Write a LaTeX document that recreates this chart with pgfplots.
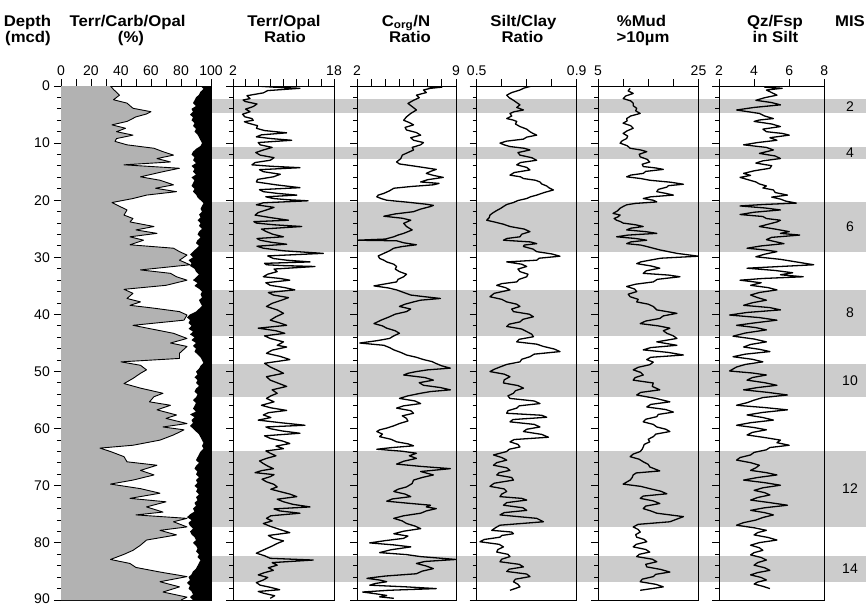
\documentclass[border=0pt]{standalone}
\usepackage{pgfplots}
\pgfplotsset{compat=1.18}
\usepackage{fontspec}
\setmainfont{Liberation Sans}
\newfontfamily\hf{Liberation Sans}[FakeStretch=1.08]
\definecolor{band}{gray}{0.8}
\definecolor{terr}{gray}{0.7}
\newcommand\hdr{\hf\bfseries\fontsize{15.5}{15.5}\selectfont}
\pgfplotsset{
  core/.style={scale only axis, y dir=reverse, ymin=0, ymax=90, height=514pt, anchor=north west,
    axis line style={line width=0.9pt}, tick align=outside, major tick length=7pt, minor tick length=4pt,
    every tick/.style={black, line width=1pt},
    ytick={0,10,...,90}, minor y tick num=4, yticklabels={}, ytick pos=left,
    xtick pos=right, xticklabel pos=right,
    tick label style={font=\fontsize{14}{14}\selectfont},
    /pgf/number format/assume math mode=true},
  curve/.style={black, line width=1.3pt, mark=none, line join=round}
}
\begin{document}
\begin{tikzpicture}
\useasboundingbox (0,0) rectangle (866pt,-606pt);
% headers
\node[anchor=base, font=\hdr] at (27.5pt,-26.5pt) {Depth};
\node[anchor=base, font=\hdr] at (28pt,-42.5pt) {(mcd)};
\node[anchor=base, font=\hdr] at (127.5pt,-26.5pt) {Terr/Carb/Opal};
\node[anchor=base, font=\hdr] at (131pt,-42.5pt) {(\%)};
\node[anchor=base, font=\hdr] at (284pt,-26.5pt) {Terr/Opal};
\node[anchor=base, font=\hdr] at (285pt,-42.5pt) {Ratio};
\node[anchor=base, font=\hdr] at (406pt,-26.5pt) {C\textsubscript{org}/N};
\node[anchor=base, font=\hdr] at (410pt,-42.5pt) {Ratio};
\node[anchor=base, font=\hdr] at (523.5pt,-26.5pt) {Silt/Clay};
\node[anchor=base, font=\hdr] at (522.5pt,-42.5pt) {Ratio};
\node[anchor=base, font=\hdr] at (641.5pt,-26.5pt) {\%Mud};
\node[anchor=base, font=\hdr] at (643pt,-42.5pt) {>10µm};
\node[anchor=base, font=\hdr] at (775pt,-26.5pt) {Qz/Fsp};
\node[anchor=base, font=\hdr] at (775.5pt,-42.5pt) {in Silt};
\node[anchor=base, font=\hdr] at (850pt,-26.5pt) {MIS};

% bands
\begin{axis}[scale only axis, y dir=reverse, ymin=0, ymax=90, height=514pt, width=655pt,
  at={(211pt,-86pt)}, anchor=north west, xmin=211, xmax=866, axis lines=none, clip=false]
\addplot[fill=band, draw=none] coordinates {(211,2.3) (866,2.3) (866,4.8) (211,4.8)} -- cycle;
\addplot[fill=band, draw=none] coordinates {(211,10.7) (866,10.7) (866,12.8) (211,12.8)} -- cycle;
\addplot[fill=band, draw=none] coordinates {(211,20.3) (866,20.3) (866,29.1) (211,29.1)} -- cycle;
\addplot[fill=band, draw=none] coordinates {(211,35.7) (866,35.7) (866,43.8) (211,43.8)} -- cycle;
\addplot[fill=band, draw=none] coordinates {(211,48.7) (866,48.7) (866,54.4) (211,54.4)} -- cycle;
\addplot[fill=band, draw=none] coordinates {(211,63.9) (866,63.9) (866,77.2) (211,77.2)} -- cycle;
\addplot[fill=band, draw=none] coordinates {(211,82.3) (866,82.3) (866,86.9) (211,86.9)} -- cycle;
\node[font=\fontsize{14}{14}\selectfont] at (axis cs:850,3.55) {2};
\node[font=\fontsize{14}{14}\selectfont] at (axis cs:850,11.75) {4};
\node[font=\fontsize{14}{14}\selectfont] at (axis cs:850,24.7) {6};
\node[font=\fontsize{14}{14}\selectfont] at (axis cs:850,39.75) {8};
\node[font=\fontsize{14}{14}\selectfont] at (axis cs:850,51.55) {10};
\node[font=\fontsize{14}{14}\selectfont] at (axis cs:850,70.55) {12};
\node[font=\fontsize{14}{14}\selectfont] at (axis cs:850,84.6) {14};
\end{axis}

% Panel 1
\begin{axis}[core, at={(61pt,-86pt)}, width=150pt, xmin=0, xmax=100,
  xtick={0,10,...,100}, xticklabels={0,,20,,40,,60,,80,,100},
  yticklabels={0,10,20,30,40,50,60,70,80,\raisebox{2.5pt}{90}}, yticklabel style={xshift=-3pt, inner sep=1pt}]
\addplot[fill=terr, draw=none] coordinates {(0,0) (33,0) (35,0.6) (39,1.6) (35,2.4) (44,3.0) (48,3.9) (60,4.5) (57,4.9) (50,5.4) (44,6.2) (34,6.8) (43,7.4) (37,8) (48,8.6) (37,9.2) (36,9.7) (44,10.3) (62,10.9) (68,11.5) (75,12.1) (64,12.7) (73,13.3) (42,13.8) (79,14.4) (68,15) (53,15.9) (66,16.5) (75,17.3) (63,17.9) (77,18.5) (57,19.1) (48,19.7) (34,20.4) (37,20.8) (44,21.7) (42,22.6) (48,23.2) (46,23.8) (62,24.6) (50,25.2) (64,25.8) (46,26.4) (55,27) (46,27.8) (75,28.4) (79,29) (84,29.6) (79,30.5) (86,31.3) (53,32.2) (73,32.8) (77,33.4) (84,34) (70,34.9) (42,35.6) (48,36.3) (44,37.2) (53,37.8) (46,38.4) (62,38.9) (79,39.5) (84,40.1) (82,41) (48,41.9) (75,43.3) (84,44.2) (73,45) (84,45.6) (79,46.8) (79,47.7) (40,48.3) (53,48.9) (57,49.7) (53,50.3) (48,51.2) (42,52.1) (53,52.9) (68,53.8) (62,54.4) (59,55.3) (73,55.9) (64,56.7) (77,57.6) (70,58.2) (84,59.1) (68,59.7) (82,60.2) (75,61.1) (66,62) (48,62.9) (26,63.4) (33,64) (42,64.9) (44,65.8) (64,66.4) (53,67.3) (62,68.1) (48,69) (33,69.7) (53,70.5) (66,71.3) (46,72.2) (70,72.8) (57,73.7) (68,74.6) (50,75.1) (84,75.7) (75,76.3) (84,77.2) (66,77.8) (77,78.6) (57,79.5) (53,80.4) (48,81.3) (42,82) (33,82.9) (46,83.6) (50,84.3) (66,85.1) (84,85.9) (66,86.8) (79,87.7) (68,88.6) (84,89.5) (80,90) (0,90)} -- cycle;
\addplot[curve, line width=0.9pt] coordinates {(33,0) (35,0.6) (39,1.6) (35,2.4) (44,3.0) (48,3.9) (60,4.5) (57,4.9) (50,5.4) (44,6.2) (34,6.8) (43,7.4) (37,8) (48,8.6) (37,9.2) (36,9.7) (44,10.3) (62,10.9) (68,11.5) (75,12.1) (64,12.7) (73,13.3) (42,13.8) (79,14.4) (68,15) (53,15.9) (66,16.5) (75,17.3) (63,17.9) (77,18.5) (57,19.1) (48,19.7) (34,20.4) (37,20.8) (44,21.7) (42,22.6) (48,23.2) (46,23.8) (62,24.6) (50,25.2) (64,25.8) (46,26.4) (55,27) (46,27.8) (75,28.4) (79,29) (84,29.6) (79,30.5) (86,31.3) (53,32.2) (73,32.8) (77,33.4) (84,34) (70,34.9) (42,35.6) (48,36.3) (44,37.2) (53,37.8) (46,38.4) (62,38.9) (79,39.5) (84,40.1) (82,41) (48,41.9) (75,43.3) (84,44.2) (73,45) (84,45.6) (79,46.8) (79,47.7) (40,48.3) (53,48.9) (57,49.7) (53,50.3) (48,51.2) (42,52.1) (53,52.9) (68,53.8) (62,54.4) (59,55.3) (73,55.9) (64,56.7) (77,57.6) (70,58.2) (84,59.1) (68,59.7) (82,60.2) (75,61.1) (66,62) (48,62.9) (26,63.4) (33,64) (42,64.9) (44,65.8) (64,66.4) (53,67.3) (62,68.1) (48,69) (33,69.7) (53,70.5) (66,71.3) (46,72.2) (70,72.8) (57,73.7) (68,74.6) (50,75.1) (84,75.7) (75,76.3) (84,77.2) (66,77.8) (77,78.6) (57,79.5) (53,80.4) (48,81.3) (42,82) (33,82.9) (46,83.6) (50,84.3) (66,85.1) (84,85.9) (66,86.8) (79,87.7) (68,88.6) (84,89.5) (80,90)};
\addplot[fill=black, draw=none] coordinates {(100,0) (93,0) (95,0.5) (93,1) (92,1.5) (90,2) (89,2.5) (88,3) (90,3.5) (87,4) (88,4.5) (86,5) (88,5.5) (87,6) (89,6.5) (88,7) (90,7.5) (89,8) (91,8.5) (92,9) (93,9.5) (94,10) (93,10.5) (90,11) (88,11.5) (87,12) (89,12.5) (88,13) (90,13.5) (87,14) (89,14.5) (88,15) (90,15.5) (87,16) (89,16.5) (88,17) (87,17.5) (89,18) (88,18.5) (90,19) (91,19.5) (93,20) (95,20.5) (94,21) (93,21.5) (94,22) (92,22.5) (93,23) (91,23.5) (93,24) (92,24.5) (94,25) (92,25.5) (91,26) (93,26.5) (91,27) (90,27.5) (92,28) (90,28.5) (88,29) (86,29.5) (88,30) (85,30.5) (87,31) (86,31.5) (89,32) (90,32.5) (92,33) (90,33.5) (88,34) (91,34.5) (89,35) (92,35.5) (94,36) (93,36.5) (94,37) (92,37.5) (93,38) (94,38.5) (92,39) (90,39.5) (86,40) (84,40.5) (86,41) (85,41.5) (87,42) (85,42.5) (88,43) (86,43.5) (89,44) (87,44.5) (90,45) (88,45.5) (90,46) (89,46.5) (91,47) (93,47.5) (94,48) (95,48.5) (93,49) (92,49.5) (90,50) (91,50.5) (89,51) (91,51.5) (90,52) (92,52.5) (90,53) (89,53.5) (91,54) (90,54.5) (88,55) (90,55.5) (89,56) (88,56.5) (90,57) (86,57.5) (89,58) (87,58.5) (88,59) (86,59.5) (88,60) (90,60.5) (92,61) (93,61.5) (94,62) (95,62.5) (94,63) (95,63.5) (93,64) (92,64.5) (91,65) (90,65.5) (92,66) (90,66.5) (89,67) (91,67.5) (90,68) (92,68.5) (90,69) (91,69.5) (89,70) (91,70.5) (90,71) (92,71.5) (90,72) (91,72.5) (89,73) (90,73.5) (88,74) (89,74.5) (86,75) (84,75.5) (87,76) (85,76.5) (86,77) (88,77.5) (86,78) (87,78.5) (89,79) (90,79.5) (88,80) (90,80.5) (91,81) (90,81.5) (92,82) (91,82.5) (93,83) (92,83.5) (91,84) (90,84.5) (88,85) (87,85.5) (85,86) (86,86.5) (84,87) (86,87.5) (85,88) (87,88.5) (88,89) (86,89.5) (88,90) (100,90)} -- cycle;
\end{axis}

% Panel 2
\begin{axis}[core, at={(233pt,-86pt)}, width=101pt, xmin=2, xmax=18,
  xtick={2,4,...,18}, xticklabels={2,,,,,,,,18}]
\addplot[curve] coordinates {(5.7,0) (8.5,0.2) (12.6,0.4) (7.5,0.8) (6.8,1.2) (4.2,1.7) (4.7,2.2) (3.6,2.45) (3.9,2.7) (5.8,3.15) (5.2,3.6) (4.0,4.05) (4.7,4.5) (3.5,4.95) (3.9,5.4) (5.0,5.7) (5.2,6) (3.8,6.25) (4.4,6.5) (5.9,6.95) (5.7,7.4) (7.0,7.8) (10.5,8.2) (6.5,8.55) (5.7,8.9) (8.0,9.2) (11.3,9.5) (6.0,9.9) (6.3,10.3) (8.2,10.75) (6.8,11.2) (5.6,11.65) (6.3,12.1) (8.5,12.55) (7.9,13) (5.5,13.4) (5,13.8) (8.0,14.05) (12.6,14.3) (6.2,14.65) (6.8,15) (9.5,15.45) (8.4,15.9) (5.9,16.35) (5.7,16.8) (8.8,17.3) (12.6,17.8) (6.2,18.15) (6.8,18.5) (9.0,18.8) (12.1,19.1) (7.2,19.4) (8.4,19.7) (10.5,19.9) (13.9,20.1) (6.8,20.45) (5.7,20.8) (8.5,21.25) (7.3,21.7) (6.0,22.15) (5.5,22.6) (8.0,23.05) (10.8,23.5) (5.3,23.75) (5.7,24) (8.5,24.3) (12.9,24.6) (6.5,25.05) (7.3,25.5) (8.3,25.95) (10,26.4) (5.8,26.7) (6.3,27) (8.0,27.35) (10.5,27.7) (5.8,28.05) (6.8,28.4) (10.0,28.85) (16.3,29.3) (7.5,29.75) (8.4,30.2) (10.5,30.5) (14.2,30.8) (7.0,31.05) (7.3,31.3) (10.0,31.45) (15,31.6) (8.5,32.05) (9,32.5) (7.5,32.95) (6.8,33.4) (9.5,33.7) (11,34) (7.2,34.45) (7.9,34.9) (10.2,35.3) (11.8,35.7) (7.6,36.15) (8.4,36.6) (10.8,37.05) (9.7,37.5) (8.2,38.05) (7.3,38.6) (9.0,39.2) (10,39.8) (8.8,40.4) (7.9,41) (9.3,41.45) (10.5,41.9) (6,42.4) (8.8,42.85) (10.2,43.3) (7.0,43.75) (7.9,44.2) (10.0,44.8) (9,45.4) (10.5,45.7) (8.2,46.25) (7.3,46.8) (9.5,47.35) (11,47.9) (7.0,48.55) (7.9,49.2) (9.0,49.75) (10,50.3) (7.3,50.9) (7.9,51.5) (9.2,52.05) (10.5,52.6) (8.2,53.2) (9,53.8) (8.0,54.25) (7.3,54.7) (8.5,55.3) (6.5,55.9) (8.0,56.35) (10.5,56.8) (7.6,57.2) (6.8,57.6) (8.0,58.05) (6,58.5) (9.5,58.95) (13.4,59.4) (7.2,59.7) (7.9,60) (9.8,60.4) (12.6,60.8) (7.0,61.25) (7.9,61.7) (9.8,62.15) (11,62.6) (8.8,63.05) (10,63.5) (7.2,63.9) (7.9,64.3) (8.8,64.75) (7.3,65.2) (6.2,65.65) (6.8,66.1) (7.5,66.55) (8.4,67) (6.5,67.35) (5.5,67.7) (8.5,68.05) (7.9,68.4) (6.6,68.85) (7.3,69.3) (8.5,69.75) (9,70.2) (8.0,70.6) (9.4,71) (11.0,71.45) (12.1,71.9) (9.0,72.35) (10,72.8) (11.5,73.25) (14.2,73.7) (8.5,74.05) (9.4,74.4) (12.6,74.8) (8.0,75.25) (7.3,75.7) (8.2,76.15) (6.8,76.6) (7.8,77.05) (9,77.5) (10,77.85) (11,78.2) (7.6,78.7) (8.4,79.2) (10.0,79.65) (9,80.1) (8.2,80.55) (7.3,81) (6.5,81.4) (5.7,81.8) (7.0,82.25) (7.9,82.7) (14.7,83) (8.2,83.45) (9,83.9) (7.6,84.35) (8.4,84.8) (7.0,85.2) (6,85.6) (7.5,86.05) (6.8,86.5) (5.7,86.95) (6.3,87.4) (8.0,87.8) (9.4,88.2) (6.0,88.5) (6.8,88.8) (8.6,89.25) (7.9,89.7)};
\end{axis}

% Panel 3
\begin{axis}[core, at={(357pt,-86pt)}, width=99pt, xmin=2, xmax=9,
  xtick={2,3,...,9}, xticklabels={2,,,,,,,9}]
\addplot[curve] coordinates {(7.6,0) (7.0,0.1) (8.0,0.2) (7.2,0.4) (6.7,0.7) (6.9,1.15) (6.2,1.6) (6.4,2.05) (6.0,2.5) (5.6,3.05) (5.9,3.6) (6.2,4.2) (5.8,4.8) (5.5,5.4) (5.3,6) (5.7,6.4) (6.0,6.8) (5.4,7.25) (5.5,7.7) (6.2,8.15) (6.5,8.6) (5.8,9.05) (6.0,9.5) (6.7,9.9) (6.5,10.3) (5.9,10.75) (6.0,11.2) (5.6,11.65) (5.2,12.1) (5.1,12.7) (4.8,13.3) (5.0,13.65) (6.0,14) (6.8,14.3) (7.6,14.6) (7.2,14.95) (6.9,15.3) (7.4,15.65) (8.1,16) (7.0,16.4) (6.5,16.8) (7.8,17.05) (7.4,17.3) (5.8,17.6) (4.6,17.9) (4.3,18.35) (3.9,18.8) (3.5,19.1) (3.4,19.4) (3.7,19.7) (4.1,20) (5.6,20.35) (6.9,20.7) (7.4,20.9) (7.2,21.1) (6.5,21.55) (6.0,22) (4.7,22.4) (3.9,22.8) (5.2,23.15) (5.8,23.5) (5.3,24.05) (5.5,24.6) (5.9,25.2) (5.3,25.8) (4.9,26.1) (4.6,26.4) (4.0,26.8) (2.0,27) (4.8,27.1) (5.3,27.45) (6.2,27.8) (5.2,28.1) (4.6,28.4) (4.3,28.85) (3.9,29.3) (3.5,29.75) (3.6,30.2) (3.9,30.5) (4.1,30.8) (4.6,31.2) (4.8,31.6) (4.7,32.05) (5.0,32.5) (5.5,32.95) (5.3,33.4) (4.9,33.85) (4.8,34.3) (4.0,34.65) (3.2,35) (4.2,35.35) (4.8,35.7) (5.3,36.15) (5.8,36.6) (6.8,36.9) (7.9,37.2) (6.5,37.5) (6.0,37.8) (5.4,38.2) (5.0,38.6) (5.8,39.05) (5.5,39.5) (4.7,39.95) (4.3,40.4) (3.7,41) (3.2,41.6) (3.8,42) (4.1,42.4) (4.7,42.85) (5.0,43.3) (4.6,43.75) (4.3,44.2) (3.4,44.6) (2.2,45) (3.9,45.4) (4.3,45.8) (4.6,46.2) (5.1,46.65) (5.5,47.1) (6.2,47.5) (6.7,47.9) (7.3,48.25) (7.6,48.6) (8.0,49.0) (8.6,49.4) (7.0,49.7) (6.2,50) (5.6,50.3) (5.3,50.6) (6.8,51.05) (7.4,51.5) (6.4,51.95) (6.7,52.4) (7.9,52.8) (8.6,53.2) (7.2,53.5) (6.5,53.8) (5.6,54.25) (5.0,54.7) (6.1,55.15) (6.5,55.6) (5.3,56) (4.8,56.4) (5.8,56.85) (6.0,57.3) (5.2,57.75) (5.5,58.2) (5.6,58.65) (5.0,59.1) (4.6,59.5) (4.1,59.9) (3.6,60.2) (3.4,60.5) (3.8,60.95) (3.6,61.4) (4.4,61.85) (4.8,62.3) (5.6,62.65) (6.0,63) (4.5,63.3) (3.4,63.6) (5.2,63.95) (6.2,64.3) (5.7,64.75) (6.2,65.2) (5.3,65.7) (4.8,66.2) (6.5,66.6) (8.6,67) (6.5,67.5) (7.4,68.1) (6.6,68.55) (6.0,69) (5.9,69.6) (5.5,70.2) (4.9,70.6) (4.6,71) (5.4,71.45) (5.8,71.9) (4.5,72.3) (4.1,72.7) (5.6,73.05) (7.2,73.4) (6.9,73.7) (7.6,74) (6.9,74.4) (6.5,74.8) (5.3,75.25) (4.6,75.7) (5.2,76.15) (5.5,76.6) (6.1,77.05) (6.5,77.5) (5.3,77.95) (4.6,78.4) (5.6,78.8) (5.3,79.2) (4.0,79.6) (2.9,80) (4.6,80.35) (5.8,80.7) (4.4,81.2) (3.6,81.7) (5.5,82.05) (6.5,82.4) (9.0,82.9) (6.8,83.25) (6.2,83.6) (6.9,84.05) (7.4,84.5) (6.6,84.95) (6.2,85.4) (4.0,85.8) (2.7,86.2) (3.6,86.5) (4.1,86.8) (3.3,87.1) (2.9,87.4) (5.5,87.7) (7.6,88) (4.2,88.3) (2.4,88.6) (3.3,88.9) (4.1,89.2) (3.6,89.45) (4.6,89.7)};
\end{axis}

% Panel 4
\begin{axis}[core, at={(476.7pt,-86pt)}, width=100pt, xmin=0.5, xmax=0.9,
  xtick={0.5,0.6,0.7,0.8,0.9}, xticklabels={0.5,,,,0.9}]
\addplot[curve] coordinates {(0.72,0) (0.69,0.35) (0.673,0.7) (0.64,1.15) (0.62,1.6) (0.63,2.05) (0.647,2.5) (0.66,2.9) (0.673,3.3) (0.66,3.75) (0.687,4.2) (0.65,4.5) (0.633,4.8) (0.64,5.25) (0.62,5.7) (0.645,5.95) (0.66,6.2) (0.655,6.65) (0.673,7.1) (0.70,7.55) (0.713,8) (0.725,8.3) (0.74,8.6) (0.70,8.95) (0.687,9.3) (0.62,9.65) (0.593,10) (0.61,10.3) (0.633,10.6) (0.69,10.9) (0.713,11.2) (0.665,11.65) (0.673,12.1) (0.72,12.55) (0.74,13) (0.675,13.4) (0.66,13.8) (0.70,14.25) (0.713,14.7) (0.65,15.15) (0.633,15.6) (0.675,15.9) (0.687,16.2) (0.735,16.5) (0.753,16.8) (0.76,17.15) (0.78,17.5) (0.79,17.85) (0.807,18.2) (0.77,18.65) (0.74,19.1) (0.715,19.4) (0.70,19.7) (0.665,20.05) (0.647,20.4) (0.62,20.75) (0.607,21.1) (0.595,21.45) (0.58,21.8) (0.565,22.2) (0.553,22.6) (0.55,23.05) (0.54,23.5) (0.575,23.85) (0.607,24.2) (0.633,24.6) (0.69,25.05) (0.713,25.5) (0.68,25.95) (0.673,26.4) (0.62,26.7) (0.607,27) (0.715,27.3) (0.74,27.6) (0.69,27.85) (0.687,28.1) (0.725,28.55) (0.74,29) (0.80,29.4) (0.833,29.8) (0.75,30.15) (0.74,30.5) (0.62,30.8) (0.68,31.2) (0.70,31.6) (0.665,32.05) (0.673,32.5) (0.705,32.95) (0.70,33.4) (0.67,33.85) (0.66,34.3) (0.60,34.6) (0.58,34.9) (0.615,35.3) (0.633,35.7) (0.57,36.3) (0.553,36.9) (0.60,37.35) (0.62,37.8) (0.66,38.2) (0.673,38.6) (0.64,39.05) (0.647,39.5) (0.71,39.95) (0.727,40.4) (0.685,40.85) (0.673,41.3) (0.63,41.7) (0.62,42.1) (0.68,42.55) (0.70,43) (0.72,43.45) (0.727,43.9) (0.67,44.35) (0.66,44.8) (0.74,45.2) (0.767,45.6) (0.81,46.05) (0.833,46.5) (0.73,46.95) (0.713,47.4) (0.68,47.85) (0.673,48.3) (0.62,48.75) (0.593,49.2) (0.57,49.6) (0.553,50) (0.61,50.45) (0.633,50.9) (0.61,51.45) (0.607,52) (0.665,52.45) (0.687,52.9) (0.655,53.35) (0.647,53.8) (0.625,54.25) (0.633,54.7) (0.73,55.15) (0.753,55.6) (0.67,56) (0.66,56.4) (0.625,56.85) (0.62,57.3) (0.76,57.65) (0.78,58) (0.645,58.4) (0.633,58.8) (0.73,59.25) (0.753,59.7) (0.70,60.1) (0.687,60.5) (0.76,61) (0.787,61.5) (0.65,61.9) (0.633,62.3) (0.665,62.75) (0.673,63.2) (0.63,63.6) (0.62,64) (0.567,64.6) (0.60,65.05) (0.62,65.5) (0.58,65.95) (0.567,66.4) (0.62,66.85) (0.633,67.3) (0.59,67.7) (0.58,68.1) (0.64,68.55) (0.647,69) (0.57,69.55) (0.553,70.1) (0.61,70.55) (0.62,71) (0.60,71.45) (0.593,71.9) (0.68,72.2) (0.70,72.5) (0.62,72.95) (0.607,73.4) (0.685,73.85) (0.70,74.3) (0.61,74.7) (0.593,75.1) (0.74,75.7) (0.767,76.3) (0.593,76.9) (0.575,77.35) (0.56,77.8) (0.64,78.1) (0.647,78.4) (0.60,78.7) (0.593,79) (0.53,79.4) (0.513,79.8) (0.59,80.25) (0.607,80.7) (0.585,81.15) (0.58,81.6) (0.625,82) (0.633,82.4) (0.60,82.85) (0.593,83.3) (0.67,83.75) (0.687,84.2) (0.63,84.6) (0.62,85) (0.70,85.45) (0.713,85.9) (0.655,86.35) (0.647,86.8) (0.665,87.25) (0.673,87.7) (0.633,88.3)};
\end{axis}

% Panel 5
\begin{axis}[core, at={(598pt,-86pt)}, width=100.5pt, xmin=5, xmax=25,
  xtick={5,10,15,20,25}, xticklabels={5,,,,25}]
\addplot[curve] coordinates {(11.4,0.4) (11.0,0.85) (12,1.3) (10.5,1.75) (10,2.2) (11.5,2.6) (12,3) (12.0,3.45) (12.7,3.9) (12.5,4.35) (13.4,4.8) (11.5,5.25) (10.7,5.7) (10.8,6.1) (10,6.5) (11.5,6.95) (12,7.4) (10.8,7.85) (10,8.3) (10.9,8.75) (10.7,9.2) (9.8,9.6) (9.4,10) (10.8,10.45) (11.4,10.9) (13.5,11.2) (14.7,11.5) (13.2,11.95) (13.4,12.4) (14.8,12.85) (15.3,13.3) (13.8,13.7) (14,14.1) (16.5,14.35) (18,14.6) (14.5,14.95) (14,15.3) (11.5,15.6) (10.7,15.9) (13.5,16.2) (15.3,16.5) (19.5,16.85) (22,17.2) (19.0,17.45) (18.7,17.7) (17.0,18.1) (16.7,18.5) (18.5,18.8) (20,19.1) (15.5,19.4) (14,19.7) (16.0,20) (16.7,20.3) (12.5,20.55) (10.7,20.8) (10.0,21.1) (9.4,21.4) (8.9,21.85) (8,22.3) (9.4,22.6) (9,22.9) (8.2,23.2) (8.7,23.5) (9.5,23.75) (10,24) (12.5,24.3) (14,24.6) (11.5,24.9) (10.7,25.2) (14.5,25.5) (16.7,25.8) (11.0,26.1) (8.7,26.4) (12.5,26.7) (14.7,27) (11.5,27.3) (10.7,27.6) (13.5,27.85) (14.7,28.1) (16.0,28.4) (17.3,28.7) (19.0,29) (20.7,29.3) (25,29.8) (17.5,30.15) (15.3,30.5) (13.5,30.8) (12.7,31.1) (15.5,31.5) (17.3,31.9) (14.6,32.35) (14,32.8) (19.0,33.1) (21.3,33.4) (16.8,33.85) (16,34.3) (12.5,34.7) (10.7,35.1) (12.3,35.55) (12.7,36) (11.0,36.45) (11.4,36.9) (13.0,37.35) (12.7,37.8) (15.0,38.2) (16,38.6) (16.7,39.2) (20.7,39.8) (18.0,40.25) (17.3,40.7) (14.5,41.15) (13.4,41.6) (17.0,42) (19.3,42.4) (18.0,42.85) (18.7,43.3) (20.0,43.75) (20.7,44.2) (16.7,44.8) (20.7,45.4) (15.5,45.8) (14,46.2) (19.0,46.65) (22,47.1) (15.5,47.5) (14.7,47.9) (16.0,48.35) (15.3,48.8) (13.0,49.25) (12,49.7) (13.5,50.15) (14,50.6) (12.4,51.05) (12,51.5) (16,52) (15.8,52.6) (17.3,53.2) (13.5,53.65) (12.7,54.1) (16.5,54.7) (19.3,55.3) (15.5,55.75) (14.7,56.2) (18.5,56.65) (20,57.1) (17.0,57.5) (16.7,57.9) (14.5,58.35) (14,58.8) (16.0,59.25) (16.7,59.7) (18.5,60.1) (19.3,60.5) (16.5,60.95) (16,61.4) (15.0,61.85) (15.3,62.3) (14.2,62.75) (14,63.2) (13.8,63.6) (13.4,64) (12.0,64.45) (11.4,64.9) (13.2,65.35) (14,65.8) (15.0,66.25) (15.3,66.7) (17.3,67.4) (12.6,67.75) (12,68.1) (11.8,68.55) (11.4,69) (10,69.7) (13.5,70.1) (15.3,70.5) (17.5,70.95) (18.7,71.4) (14.0,71.8) (13.4,72.2) (16.0,72.65) (17.3,73.1) (14.5,73.55) (14,74) (15.5,74.4) (16.7,74.8) (22,75.4) (19.3,76.3) (13.0,76.75) (12,77.2) (13.0,77.65) (13.4,78.1) (12.5,78.55) (12.7,79) (14.2,79.4) (14.7,79.8) (12.6,80.25) (12,80.7) (14.5,81.15) (15.3,81.6) (13.2,82) (12.7,82.4) (15.8,82.85) (16.7,83.3) (14.5,83.75) (14.7,84.2) (17.5,84.65) (19.3,85.1) (16.5,85.5) (16,85.9) (13.8,86.35) (13.4,86.8) (16.5,87.25) (18,87.7) (13.4,88.3)};
\end{axis}

% Panel 6
\begin{axis}[core, at={(719pt,-86pt)}, width=105.3pt, xmin=2, xmax=8,
  xtick={2,4,6,8}, xticklabels={2,4,6,8}]
\addplot[curve] coordinates {(5.5,0) (4.6,0.2) (5.6,0.4) (4.7,0.7) (5.0,1.15) (5.3,1.6) (4.6,2.05) (4.1,2.5) (5.0,2.9) (5.5,3.3) (4.0,3.75) (3.0,4.2) (4.3,4.8) (4.6,5.25) (5.1,5.7) (4.3,5.95) (4.0,6.2) (5.0,6.65) (5.5,7.1) (4.5,7.55) (4.7,8) (5.6,8.3) (6.0,8.6) (4.9,9.05) (5.3,9.5) (4.2,9.9) (3.4,10.3) (4.7,10.75) (5.1,11.2) (4.3,11.8) (5.2,12.25) (5.5,12.7) (4.5,13.1) (4.1,13.5) (5.0,13.95) (4.9,14.4) (4.0,14.85) (3.4,15.3) (3.8,15.65) (3.2,16) (4.1,16.8) (4.3,17.15) (4.7,17.5) (4.5,17.85) (5.1,18.2) (5.2,18.65) (5.9,19.1) (5.0,19.45) (5.5,19.8) (5.8,20.15) (6.4,20.5) (4.5,20.75) (3.2,21) (4.6,21.35) (5.5,21.7) (4.0,22.1) (3.2,22.5) (4.5,22.85) (4.7,23.2) (5.5,23.5) (5.3,23.8) (4.8,24.2) (4.3,24.6) (5.2,25.05) (6.0,25.5) (5.5,25.8) (6.6,26.1) (5.0,26.5) (4.7,26.9) (5.2,27.25) (5.7,27.6) (4.4,28) (3.6,28.4) (4.6,28.7) (5.3,29) (4.6,29.45) (4.1,29.9) (5.5,30.35) (6.4,30.8) (7.4,31.3) (3.6,31.9) (5.2,32.3) (6.2,32.7) (5.5,33.05) (6.8,33.4) (4.5,33.7) (3.2,34) (4.4,34.45) (3.8,34.9) (4.8,35.3) (5.3,35.7) (4.3,36.15) (3.8,36.6) (4.2,37.05) (4.7,37.5) (3.9,37.95) (3.4,38.4) (4.9,38.8) (5.5,39.2) (3.6,39.65) (2.6,40.1) (4.3,40.55) (5.3,41) (4.1,41.45) (3.0,41.9) (4.1,42.3) (4.7,42.7) (3.5,43.25) (2.8,43.8) (4.0,44.3) (4.7,44.8) (3.8,45.25) (3.4,45.7) (4.3,46.1) (4.9,46.5) (3.5,46.95) (2.8,47.4) (3.9,47.85) (4.5,48.3) (3.5,48.75) (3.0,49.2) (2.6,49.9) (3.9,50.25) (4.7,50.6) (3.9,51.05) (3.6,51.5) (4.6,51.95) (5.3,52.4) (4.2,52.8) (3.4,53.2) (4.8,53.65) (5.9,54.1) (4.5,54.55) (4.0,55) (3.6,55.45) (3.0,55.9) (4.6,56.3) (5.9,56.7) (4.5,57.15) (3.6,57.6) (4.5,58.05) (5.1,58.5) (3.8,58.95) (3.0,59.4) (4.0,59.8) (4.7,60.2) (3.9,60.65) (3.6,61.1) (4.6,61.55) (5.5,62) (5.3,62.45) (6.0,62.9) (4.9,63.3) (4.7,63.7) (4.0,64.15) (3.8,64.6) (3.2,65.05) (3.0,65.5) (3.8,65.95) (4.3,66.4) (4.1,66.85) (3.8,67.3) (4.7,67.7) (5.3,68.1) (4.2,68.55) (3.4,69) (4.6,69.45) (5.5,69.9) (4.5,70.35) (4.0,70.8) (4.6,71.2) (4.9,71.6) (4.2,72.05) (3.8,72.5) (4.9,72.95) (5.9,73.4) (4.6,73.85) (3.8,74.3) (4.6,74.7) (5.1,75.1) (4.5,75.55) (4.1,76) (3.4,76.45) (3.0,76.9) (4.0,77.35) (4.7,77.8) (4.2,78.2) (4.0,78.6) (4.8,79.05) (5.3,79.5) (4.3,79.95) (3.8,80.4) (4.3,80.85) (4.5,81.3) (4.0,81.7) (3.8,82.1) (4.4,82.55) (4.7,83) (4.2,83.45) (4.0,83.9) (4.6,84.35) (4.9,84.8) (4.2,85.2) (3.8,85.6) (4.4,86.05) (4.7,86.5) (4.2,86.85) (4.0,87.2) (4.5,87.6) (4.9,88)};
\end{axis}
\end{tikzpicture}
\end{document}
